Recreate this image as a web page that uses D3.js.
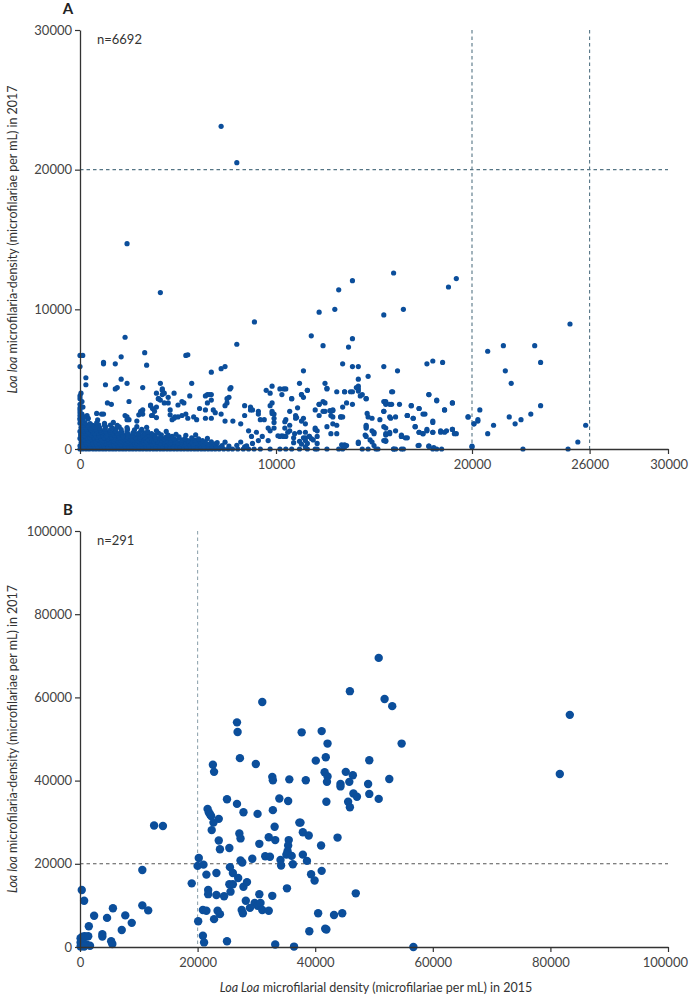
<!DOCTYPE html>
<html><head><meta charset="utf-8">
<script src="https://cdn.jsdelivr.net/npm/d3@7"></script>
<style>
body{margin:0;background:#fff}
svg{display:block}
text{font-family:Lato,"Open Sans",sans-serif}
</style>
</head><body>
<svg id="chart" width="690" height="997"></svg>
<script>
// ---------- data ----------
const panelLabels = ["A", "B"];
const nLabels = ["n=6692", "n=291"];
const aXTicks = [0, 10000, 20000, 26000, 30000];
const aYTicks = [0, 10000, 20000, 30000];
const bXTicks = [0, 20000, 40000, 60000, 80000, 100000];
const bYTicks = [0, 20000, 40000, 60000, 80000, 100000];
const aRefX = [20000, 26000];
const aRefY = [20000];
const bRefX = [20000];
const bRefY = [20000];

// Panel A: mf density 2015 (x) vs 2017 (y) — scattered points
const aSparse = [
[7200,23100],[8000,20500],[2400,14700],[4100,11200],[8900,9100],[13900,12050],[13200,11400],[16000,12600],[18800,11600],[19200,12200],
[15500,9600],[16500,10000],[25000,8950],[20800,7000],[21600,7400],[23200,7400],[23500,6200],[21700,5600],[22000,4700],[15500,5900],
[16200,5600],[17700,6100],[18000,6300],[18500,6200],[15900,4100],[17800,3900],[15500,3400],[15600,3200],[15900,3200],[18200,3500],
[19000,3300],[20400,2800],[23500,3100],[15500,2700],[16900,3100],[17300,2900],[16700,2400],[17000,2200],[17600,2500],[18600,2800],
[15800,2300],[18000,1900],[19800,2300],[20100,1800],[20300,2000],[21100,1700],[21900,2300],[22200,1800],[22500,2100],[23000,2500],
[25800,1700],[17100,1600],[15600,1000],[15800,1100],[16100,1300],[16400,900],[16600,800],[17300,1200],[17500,1100],[17700,1300],
[18000,1200],[18400,1300],[18700,1300],[19000,1400],[19200,1100],[20800,1100],[15600,550],[17300,260],[17800,200],[20000,200],
[25400,500],[16000,0],[16400,0],[18000,0],[18200,0],[22600,0],[24900,0],
[2300,8000],[8000,7500],[12200,9800],[13000,10000],[11800,8100],[12400,7400],[13900,7900],[13700,7300],[0,6700],[140,6700],
[0,5900],[1200,6200],[1200,6100],[1800,6100],[2100,6600],[3300,6900],[3400,6000],[5400,6700],[5500,6750],[6700,5500],
[7200,5750],[7400,5900],[300,5100],[300,4600],[2100,5000],[2400,4700],[1300,4600],[1800,4300],[1900,4400],[3200,4400],
[4100,4700],[4200,4300],[4300,4000],[4500,3700],[4000,3600],[4100,3500],[4800,4000],[5700,4700],[5600,3800],[5200,3400],
[5000,3150],[6400,3800],[6700,3900],[6700,3500],[7700,4400],[7600,3700],[7500,3600],[6100,2900],[0,3600],[0,2950],
[0,2600],[1400,3300],[1600,3200],[850,2550],[1100,2500],[1200,2500],[2500,3400],[3100,2700],[3200,2500],[3000,2450],
[3600,3100],[3900,3000],[3700,2400],[4600,2450],[4800,2200],[5000,2300],[5800,2300],[5950,2100],[6400,2800],[6800,2800],
[6900,2600],[7400,3100],[7800,2000],[2300,2400],[2400,2100],[2900,2000],[8400,2400],[8700,3000],[8800,2800],[9100,2700],
[9100,2500],[9400,2100],[9700,4000],[9800,4500],[9900,2500],[9700,3100],[10200,4300],[10400,4300],[10800,3600],[11000,2400],
[11000,2200],[11200,4700],[11300,3900],[11400,5600],[11600,4200],[12000,2800],[12200,3200],[12500,3300],[12500,2700],[12800,2700],
[12900,2300],[13300,2300],[13400,2300],[12500,4700],[12600,4300],[13400,6100],[13900,5900],[14200,5900],[13500,4100],[13900,4100],
[14200,4300],[14200,4500],[14200,5000],[14400,3900],[14700,5200],[14600,3600],[13500,300],[13600,250],[14200,400],[12000,0],
[11600,400],[11200,550],[11300,350],[11200,1200],[11500,1200],[11500,800],[11700,900],[12000,1500],[12100,1300],[12100,900],
[10100,950],[10400,900],[10500,900],[10700,1300],[10900,450],[10950,1100],[9600,1500],[9900,1900],[9900,1500],[9300,900],
[9600,600],[9000,1200],[9100,600],[8600,1300],[8750,900],[8800,400],[8200,1800],[8200,500],[8400,150],[9200,0],
[9700,0],[10200,0],[10500,0],[10800,0],[11200,0],[11600,0],[12100,0],[12600,0],[13200,0],[13400,0],
[14650,2550],[14700,2300],[14600,1600],[14600,900],[15000,1200],[15000,1100],[14800,650],[14900,500],[15300,2100],[16100,2300],
[16300,3200],[16400,1000],[16700,2400],[15600,3300],[15600,3400],[15800,3200],[15850,2200],[15500,600],[15500,1600],[15000,250],
[14400,0],[14700,0],[15100,0],[16000,0],
[0,2200],[360,2400],[420,2200],[2400,2300],[2500,2100],[3100,2600],[3200,2800],[3600,3150],[3700,2900],[3650,2400],
[3900,2250],[3800,2700],[3900,4000],[4000,3600],[4200,4200],[4200,3900],[4500,3300],[4300,3300],[4600,2800],[4850,2300],
[4700,2100],[5300,3300],[5200,2400],[5400,2500],[5500,2200],[6400,2200],[6700,2200],[6500,3900],[6600,3900],[6500,3300],
[7650,4300],[7500,3300],[7200,2500],[7400,2000],[8400,3100],[8700,2800],[9200,2100],[9500,4200],[9800,2550],
[10500,4300],[10300,3900],[10800,3600],[11400,3700],[11300,3900],[11600,4200],[12600,4350],[13100,4100],[13500,4100],[13800,4100],
[14100,4400],[14200,4150],[13900,3200],[14300,3800],[14600,3600],[12200,3200],[12400,3400],[13400,3000],[13600,3300],[12400,2700],
[12750,2750],[12900,2750],[11100,2950],[10700,2700],[10500,2100],[10450,1950],[9800,3300],[9800,2700],[9900,2200],[9700,1300],
[11050,2250],[11400,2200],[11300,2000],[11500,1800],[10700,1700],[10450,1500],[10600,1200],[10200,900],[10300,950],[10400,900],
[10900,800],[11400,800],[11500,600],[11500,150],[11700,900],[11800,750],[11900,650],[12000,1400],[12100,400],[12200,2400],
[12800,2400],[12900,2800],[12600,1600],[12900,1800],[13100,1700],[13100,1100],[12800,1100],[13300,2300],[13350,300],[13500,150],
[14200,500],[14600,1500],[14550,1000],[14600,1700],[14900,1300],[14900,2200],[15200,0],[15600,600],[15600,1100],[15800,1200],
[15600,1500],[15500,2700],[15950,4100],[16100,0],[16500,0],[16400,900],[16700,800],[16700,2400],[16900,3100],[17000,2200],
[17100,1600],[17300,2900],[17500,2500],[17300,1200],[17500,1100],[17700,1400],[17800,3900],[18000,2000],[18000,1200],[18200,3450],
[18400,1200],[18600,1200],[18600,2800],[19000,3300],[19000,1400],[19100,1100],[17250,250],[17800,200],[18050,100],[18450,0],
[19800,2300],[20000,150],[20100,1800],[20300,2100]
];

// Panel A: dense cluster near the origin
const aDense = [
[0,0],[140,0],[310,0],[470,0],[660,0],[820,0],[990,0],[1160,0],[1320,0],[1500,0],[1670,0],[1830,0],[2010,0],[2180,0],[2340,0],
[2520,0],[2690,0],[2860,0],[3040,0],[3210,0],[3390,0],[3560,0],[3740,0],[3910,0],[4090,0],[4260,0],[4440,0],[4610,0],[4790,0],
[4960,0],[5140,0],[5310,0],[5490,0],[5660,0],[5840,0],[6010,0],[6190,0],[6360,0],[6540,0],[6720,0],[6900,0],[7100,0],[7330,0],
[7560,0],[7780,0],[8050,0],[8330,0],[8600,0],[8880,0],
[80,120],[260,110],[430,140],[600,100],[780,130],[950,110],[1120,140],[1290,100],[1460,120],[1630,140],[1810,110],[1980,130],
[2150,100],[2330,140],[2500,120],[2670,110],[2850,130],[3020,100],[3190,140],[3370,120],[3540,110],[3710,130],[3890,100],
[4060,140],[4230,120],[4410,110],[4580,130],[4760,100],[4930,140],[5110,120],[5280,110],[5460,130],[5640,100],[5820,140],
[6000,120],[6250,110],[6500,130],[6800,100],[7150,120],
[0,230],[200,180],[390,260],[560,210],[740,250],[900,190],[1080,270],[1250,220],[1430,180],[1600,260],[1770,230],[1950,200],
[2120,270],[2300,210],[2470,240],[2650,190],[2820,260],[3000,220],[3170,180],[3350,250],[3520,210],[3700,270],[3870,200],
[4050,240],[4220,190],[4400,260],[4570,220],[4750,180],[4920,250],[5100,210],[5270,270],[5450,200],[5630,240],[5800,190],
[5980,260],[6160,220],[6340,180],[6520,250],[6700,210],[6950,190],[7250,240],[7600,200],[8000,260],[8500,220],
[120,360],[320,380],[500,340],[680,370],[860,350],[1030,390],[1210,340],[1390,370],[1560,360],[1740,330],[1920,380],[2100,350],
[2280,370],[2460,340],[2640,390],[2810,350],[2990,370],[3160,340],[3340,380],[3520,360],[3700,340],[3880,390],[4060,350],
[4240,370],[4420,340],[4600,380],[4780,360],[4960,340],[5150,390],[5350,350],[5560,370],[5780,340],[6020,380],[6280,360],
[6560,340],[6900,370],
[60,470],[250,520],[430,440],[610,500],[780,540],[960,460],[1130,510],[1310,430],[1480,490],[1660,550],[1840,450],[2010,500],
[2190,540],[2360,420],[2540,480],[2720,530],[2890,460],[3070,510],[3240,440],[3420,500],[3600,550],[3770,470],[3950,520],
[4120,430],[4300,490],[4480,540],[4650,460],[4830,510],[5000,440],[5200,500],[5420,470],[5650,530],[5900,450],[6150,500],
[6400,470],[6700,520],[7000,450],[7400,490],
[100,620],[290,640],[470,600],[650,630],[830,610],[1010,650],[1190,600],[1370,640],[1550,620],[1720,600],[1900,650],[2080,610],
[2260,630],[2440,600],[2620,650],[2800,620],[2980,600],[3170,640],[3360,610],[3560,630],[3760,600],[3960,650],[4180,620],
[4400,600],[4650,640],[4900,610],[5200,630],[5500,600],[5850,640],[6250,610],
[0,760],[190,720],[370,800],[550,740],[720,780],[900,700],[1080,760],[1250,820],[1430,730],[1610,790],[1780,710],[1960,770],
[2140,830],[2320,740],[2500,790],[2680,720],[2870,780],[3050,740],[3250,800],[3450,730],[3650,780],[3850,710],[4080,770],
[4300,740],[4550,800],[4800,720],[5050,770],[5350,740],[5700,790],[6050,730],[6500,760],
[120,880],[310,900],[490,860],[680,890],[860,870],[1040,910],[1230,860],[1420,890],[1610,870],[1800,900],[2000,860],[2200,890],
[2400,870],[2600,910],[2830,860],[3070,890],[3320,870],[3580,900],[3850,860],[4120,890],[4400,870],[4700,900],[5050,870],
[30,1010],[220,960],[400,1050],[590,990],[770,1040],[950,970],[1150,1020],[1350,960],[1550,1050],[1750,990],[1950,1030],
[2200,970],[2450,1040],[2700,990],[2950,1060],[3200,980],[3500,1030],[3800,970],[4150,1020],[4500,990],[4900,1050],[5400,980],
[5900,1010],
[100,1130],[310,1150],[520,1110],[730,1140],[950,1120],[1170,1160],[1400,1110],[1650,1140],[1900,1120],[2150,1150],[2420,1110],
[2700,1140],[3000,1120],[3300,1150],[3650,1110],[4000,1140],
[0,1260],[200,1300],[420,1220],[640,1280],[850,1330],[1080,1240],[1300,1290],[1550,1230],[1800,1310],[2100,1250],[2400,1300],
[2750,1220],[3100,1280],[3450,1240],[3900,1300],[4400,1260],
[120,1400],[340,1420],[570,1380],[800,1410],[1040,1390],[1290,1430],[1550,1380],[1820,1410],[2100,1390],[2420,1420],[2780,1380],
[3150,1410],
[50,1540],[280,1580],[520,1510],[760,1570],[1000,1530],[1300,1600],[1650,1520],[2000,1580],[2400,1540],[2900,1600],[3400,1550],
[130,1700],[380,1720],[650,1690],[950,1730],[1250,1700],[1550,1720],[1900,1690],
[0,1850],[250,1880],[520,1820],[850,1870],[1250,1840],[1700,1900],
[0,2100],[150,2050],[400,2150],[900,2080],
[0,2400],[100,2500],[200,2300],[0,2800],[150,3000],[0,3200],[100,3400],[0,3800],[50,4000]
];

// Panel B: participants with mf density >= 20000 in 2015 or 2017
const bPoints = [
[50800,69500],[45900,61500],[51800,59600],[53100,57900],[31000,58900],[26700,54000],[26800,51700],[37700,51600],[41100,51900],[42100,48900],
[54700,48900],[83300,55800],[81600,41600],[27200,45400],[29900,44000],[22600,43800],[22800,42100],[40100,44800],[41800,45600],[49200,44900],
[32700,40900],[35600,40300],[38400,40100],[41600,42000],[42100,41000],[42000,39700],[45200,42100],[46400,41300],[45800,39700],[44300,39200],
[49000,39200],[52600,40400],[44300,38600],[32800,40100],
[41900,34900],[45600,34900],[45900,33600],[46500,36900],[47100,36100],[49200,36800],[50800,35600],[37500,29900],[37900,27600],[38900,26800],
[43800,26300],[41000,24400],[37900,22200],[38600,20700],[39300,17500],[41100,18300],[39900,16000],[46900,12900],[40500,8100],[43200,7700],
[44600,8100],[39000,3800],[41700,4400],[41900,4200],[56700,0],
[25000,35500],[26700,34400],[21700,33200],[21900,32400],[22100,31900],[22300,31500],[23600,30800],[22700,29900],[22400,28100],[27800,32400],
[30200,32000],[23600,25600],[23800,23500],[25400,23800],[27100,27300],[27300,26100],[30500,24800],[29300,21200],[27300,20800],[27600,20300],
[20200,21400],[20000,19500],[21000,19800],[21500,17400],[23200,17800],[25500,19200],[26000,17800],[26900,16600],[25400,15100],[26000,15100],
[27800,14500],[28400,15600],[21800,13700],[21800,12700],[23200,12500],[24500,12200],[25600,13300],[28200,11100],[30500,12700],[32700,12300],
[29700,10600],[30200,9900],[30700,10600],[28900,9400],[27500,8900],[27700,8100],[20900,8900],[21500,8700],[23400,8700],[23800,7900],
[31000,8900],[32100,8700],[22800,6700],[20100,6200],[20900,2700],[21100,1100],[25000,1400],[33200,600],[36400,100],[19000,15300],
[10600,18500],[12600,29200],[14100,29100],[10600,10000],[11600,8800],[5600,9300],[4600,7000],[7700,7600],[8800,5800],[7100,4100],
[2400,7500],[1500,5000],[300,13700],[700,11100],[3800,3100],[3800,2500],[5300,1400],[5500,700],[100,2100],[400,2500],
[800,2600],[1400,2600],[100,1100],[600,900],[1100,600],[1700,300],[100,100],[300,300],[700,100],
[35500,25700],[35400,24400],[35300,23000],[35100,22200],[36000,21900],[34100,20900],[34200,19600],[36200,19900],[35200,14100],[31500,21800],
[32300,21700],[32800,32900],[33900,35700],[35400,35100],[33100,28900],[33200,25700],[32100,26400],[37300,29900]
];

// ---------- drawing ----------
const svg = d3.select("#chart");
const dotColor = "#0b4e9b";
const axisColor = "#333";

const panels = [
  {label: panelLabels[0], n: nLabels[0], pts: aSparse.concat(aDense), r: 2.6,
   x: d3.scaleLinear().domain([0, 30000]).range([80, 668]),
   y: d3.scaleLinear().domain([0, 30000]).range([449, 30]),
   xt: aXTicks, yt: aYTicks, refX: aRefX, refY: aRefY,
   refXColor: "#557585", refYColor: "#557585", xTitle: false},
  {label: panelLabels[1], n: nLabels[1], pts: bPoints, r: 4.2,
   x: d3.scaleLinear().domain([0, 100000]).range([80, 668]),
   y: d3.scaleLinear().domain([0, 100000]).range([947, 531]),
   xt: bXTicks, yt: bYTicks, refX: bRefX, refY: bRefY,
   refXColor: "#93a7b1", refYColor: "#555", xTitle: true}
];

panels.forEach(p => {
  const g = svg.append("g");
  const [x0, x1] = p.x.range();
  const [y0, y1] = p.y.range();

  g.append("text").attr("x", 68).attr("y", y1 - 16)
    .attr("text-anchor", "middle").attr("font-size", 15).attr("font-weight", "bold")
    .attr("fill", "#222").text(p.label);

  g.append("text").attr("x", 97).attr("y", y1 + 14)
    .attr("font-size", 13).attr("fill", "#333").text(p.n);

  p.refX.forEach(v => g.append("line")
    .attr("x1", p.x(v)).attr("x2", p.x(v)).attr("y1", y1).attr("y2", y0)
    .attr("stroke", p.refXColor).attr("stroke-width", 1.1).attr("stroke-dasharray", "3.5,3"));
  p.refY.forEach(v => g.append("line")
    .attr("x1", x0).attr("x2", x1).attr("y1", p.y(v)).attr("y2", p.y(v))
    .attr("stroke", p.refYColor).attr("stroke-width", 1.1).attr("stroke-dasharray", "3.5,3"));

  g.append("g").selectAll("circle").data(p.pts).join("circle")
    .attr("cx", d => p.x(d[0])).attr("cy", d => p.y(d[1])).attr("r", p.r)
    .attr("fill", dotColor);

  const xa = g.append("g").attr("transform", `translate(0,${y0})`)
    .call(d3.axisBottom(p.x).tickValues(p.xt).tickFormat(d3.format("d")).tickSize(5).tickSizeOuter(0));
  const ya = g.append("g").attr("transform", `translate(${x0},0)`)
    .call(d3.axisLeft(p.y).tickValues(p.yt).tickFormat(d3.format("d")).tickSize(5).tickSizeOuter(0));
  [xa, ya].forEach(a => {
    a.select(".domain").attr("stroke", axisColor).attr("stroke-width", 1.3);
    a.selectAll(".tick line").attr("stroke", axisColor).attr("stroke-width", 1.2);
    a.selectAll(".tick text").attr("fill", "#444").attr("font-size", 13)
      .attr("font-family", "Lato, 'Open Sans', sans-serif");
  });
  xa.selectAll(".tick text").attr("dy", "0.95em");
  // keep the last x tick label inside the page
  xa.selectAll(".tick text").filter((d, i, n) => i === n.length - 1 && p.x(d) + 24 > 688)
    .attr("text-anchor", "end").attr("dx", "1.5em");

  const yt = g.append("text")
    .attr("transform", `translate(17,${(y0 + y1) / 2}) rotate(-90)`)
    .attr("text-anchor", "middle").attr("font-size", 12.5).attr("fill", "#333");
  yt.append("tspan").attr("font-style", "italic").text("Loa loa");
  yt.append("tspan").text(" microfilaria-density (microfilariae per mL) in 2017");

  if (p.xTitle) {
    const xt = g.append("text").attr("x", (x0 + x1) / 2 + 2).attr("y", y0 + 45)
      .attr("text-anchor", "middle").attr("font-size", 12.5).attr("fill", "#333");
    xt.append("tspan").attr("font-style", "italic").text("Loa Loa");
    xt.append("tspan").text(" microfilarial density (microfilariae per mL) in 2015");
  }
});
</script>
</body></html>
